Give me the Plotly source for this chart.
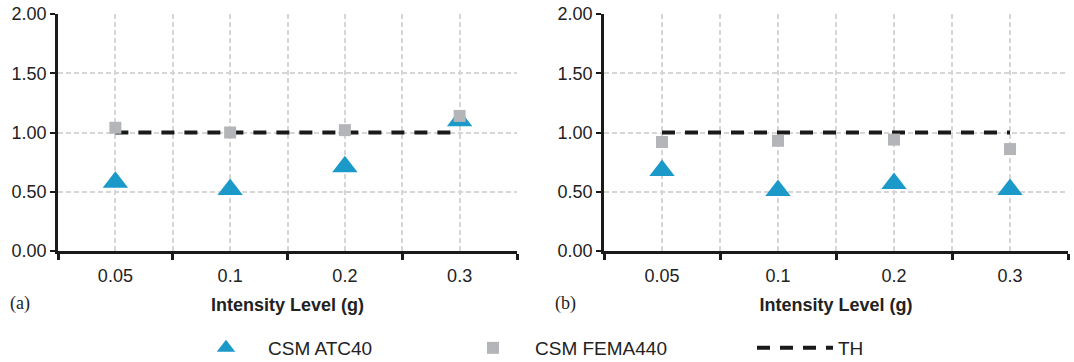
import plotly.graph_objects as go

categories = ["0.05", "0.1", "0.2", "0.3"]
atc40_a = [0.58, 0.52, 0.71, 1.10]
fema440_a = [1.04, 1.00, 1.02, 1.14]
th_a = [1.0, 1.0, 1.0, 1.0]
atc40_b = [0.68, 0.51, 0.57, 0.52]
fema440_b = [0.92, 0.93, 0.94, 0.86]
th_b = [1.0, 1.0, 1.0, 1.0]
y_ticks = [0.0, 0.5, 1.0, 1.5, 2.0]

xpos = [i + 0.5 for i in range(len(categories))]

BLUE = "#1b99c9"
GREY = "#b4b5b8"
FONT = "Liberation Sans, Arial, sans-serif"
SERIF = "Liberation Serif, Times New Roman, serif"
W, H = 1074, 362
ML, MR, MT, MB = 58, 6, 14, 111
PW, PH = W - ML - MR, H - MT - MB

fig = go.Figure()

panels = [("x", "y", atc40_a, fema440_a, th_a, True),
          ("x2", "y2", atc40_b, fema440_b, th_b, False)]
for xa, ya, atc, fema, th, show in panels:
    fig.add_trace(go.Scatter(x=xpos, y=th, mode="lines", name="TH", xaxis=xa, yaxis=ya,
                             line=dict(color="#1a1a1a", width=4, dash="13px,10px"),
                             showlegend=show, legend="legend3"))
    fig.add_trace(go.Scatter(x=xpos, y=atc, mode="markers", name="CSM ATC40", xaxis=xa, yaxis=ya,
                             marker=dict(symbol="triangle-up", size=22, color=BLUE),
                             showlegend=show, legend="legend"))
    fig.add_trace(go.Scatter(x=xpos, y=fema, mode="markers", name="CSM FEMA440", xaxis=xa, yaxis=ya,
                             marker=dict(symbol="square", size=12, color=GREY),
                             showlegend=show, legend="legend2"))

def px(v):
    return (v - ML) / PW

def py(v):
    return (H - MB - v) / PH

grid = dict(gridcolor="#d6d6d6", gridwidth=1.5, griddash="5px,3px")

xcommon = dict(range=[0, 4], tickmode="array", tickvals=xpos, ticktext=categories, ticks="",
               showgrid=True, **grid, showline=True, linecolor="#1a1a1a", linewidth=2.5,
               zeroline=False, tickfont=dict(family=FONT, size=18, color="#222"),
               ticklabelstandoff=7, automargin=False,
               title=dict(text="<b>Intensity Level (g)</b>", font=dict(family=FONT, size=18, color="#222"), standoff=14),
               minor=dict(tickmode="array", tickvals=[0, 1, 2, 3, 4], ticks="outside", ticklen=6,
                          tickwidth=2.5, tickcolor="#1a1a1a", showgrid=True, **grid),
               fixedrange=True)
ycommon = dict(range=[0, 2.0], tickmode="array", tickvals=y_ticks, tickformat=".2f",
               ticks="outside", ticklen=5, tickwidth=2, tickcolor="#1a1a1a", automargin=False,
               showgrid=True, **grid, showline=True, linecolor="#1a1a1a", linewidth=2.5,
               zeroline=False, tickfont=dict(family=FONT, size=18, color="#222"), fixedrange=True)

legfont = dict(family=FONT, size=19, color="#222")
fig.update_layout(
    width=W, height=H, margin=dict(l=ML, r=MR, t=MT, b=MB, autoexpand=False),
    plot_bgcolor="white", paper_bgcolor="white",
    xaxis=dict(domain=[0, px(517)], anchor="y", **xcommon),
    yaxis=dict(domain=[0, 1], anchor="x", **ycommon),
    xaxis2=dict(domain=[px(604), 1], anchor="y2", **xcommon),
    yaxis2=dict(domain=[0, 1], anchor="x2", **ycommon),
    legend=dict(x=px(184), y=py(348), xanchor="left", yanchor="middle", itemwidth=74,
                font=legfont, bgcolor="rgba(0,0,0,0)"),
    legend2=dict(x=px(451), y=py(348), xanchor="left", yanchor="middle", itemwidth=74,
                 font=legfont, bgcolor="rgba(0,0,0,0)"),
    legend3=dict(x=px(752), y=py(348), xanchor="left", yanchor="middle", itemwidth=76,
                 font=legfont, bgcolor="rgba(0,0,0,0)"),
    annotations=[
        dict(text="(a)", x=px(8), y=py(303), xref="paper", yref="paper", xanchor="left",
             yanchor="middle", showarrow=False, font=dict(family=SERIF, size=18, color="#222")),
        dict(text="(b)", x=px(553), y=py(303), xref="paper", yref="paper", xanchor="left",
             yanchor="middle", showarrow=False, font=dict(family=SERIF, size=18, color="#222")),
    ],
)

fig.write_html("out.html", config={"displayModeBar": False},
               post_script="document.body.style.margin='0';document.body.style.overflow='hidden';")
